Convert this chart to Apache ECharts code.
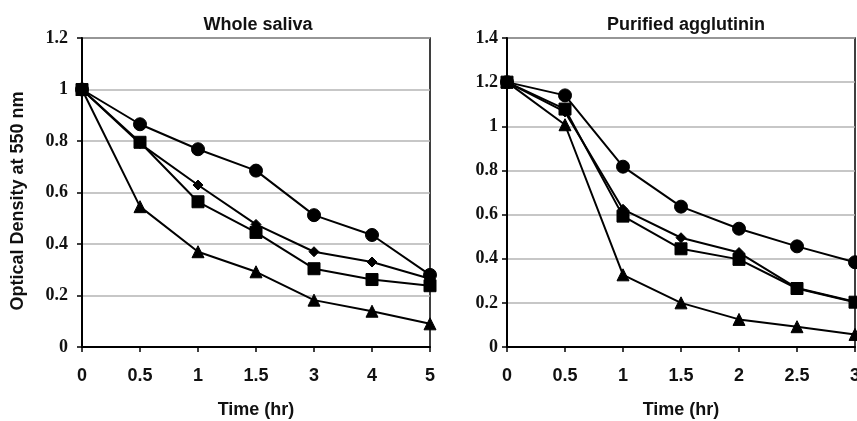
<!DOCTYPE html>
<html>
<head>
<meta charset="utf-8">
<script src="https://cdn.jsdelivr.net/npm/echarts@6/dist/echarts.min.js"></script>
<style>html,body{margin:0;padding:0;background:#fff}#c{width:857px;height:421px}</style>
</head>
<body>
<div id="c"></div>
<script>
// Left panel: Whole saliva
var timesLeft = ['0', '0.5', '1', '1.5', '3', '4', '5'];
var leftCircle   = [1.0, 0.865, 0.768, 0.685, 0.512, 0.435, 0.28];
var leftDiamond  = [1.0, 0.79, 0.629, 0.476, 0.37, 0.33, 0.265];
var leftSquare   = [1.0, 0.795, 0.564, 0.445, 0.304, 0.262, 0.238];
var leftTriangle = [1.0, 0.545, 0.37, 0.292, 0.182, 0.139, 0.09];

// Right panel: Purified agglutinin
var timesRight = ['0', '0.5', '1', '1.5', '2', '2.5', '3'];
var rightCircle   = [1.2, 1.14, 0.817, 0.636, 0.536, 0.456, 0.384];
var rightDiamond  = [1.2, 1.065, 0.624, 0.495, 0.428, 0.267, 0.205];
var rightSquare   = [1.2, 1.078, 0.593, 0.445, 0.397, 0.265, 0.203];
var rightTriangle = [1.2, 1.007, 0.327, 0.2, 0.125, 0.092, 0.057];

var titles = ['Whole saliva', 'Purified agglutinin'];
var yAxisTitle = 'Optical Density at 550 nm';
var xAxisTitle = 'Time (hr)';

var chart = echarts.init(document.getElementById('c'));

function xAx(idx, cats) {
  return {
    type: 'category', gridIndex: idx, data: cats, boundaryGap: false,
    name: xAxisTitle, nameLocation: 'middle', nameGap: 54,
    nameTextStyle: {fontFamily: 'Liberation Sans', fontWeight: 'bold', fontSize: 18, color: '#111'},
    axisLine: {lineStyle: {color: '#000', width: 2}},
    axisTick: {show: true, alignWithLabel: true, length: 5, lineStyle: {color: '#000', width: 1.5}},
    axisLabel: {margin: 20, fontFamily: 'Liberation Sans', fontWeight: 'bold', fontSize: 18, color: '#111'},
    splitLine: {show: false}
  };
}
function yAx(idx, max) {
  return {
    type: 'value', gridIndex: idx, min: 0, max: max, interval: 0.2,
    axisLine: {show: true, lineStyle: {color: '#000', width: 2}},
    axisTick: {show: true, length: 5, lineStyle: {color: '#000', width: 1.5}},
    axisLabel: {margin: idx === 0 ? 14 : 9, fontFamily: 'Liberation Serif', fontWeight: 'bold', fontSize: 18, color: '#111'},
    splitLine: {show: true, lineStyle: {color: '#b4b4b4', width: 1.5}}
  };
}
function ser(idx, data, sym, size) {
  return {
    type: 'line', xAxisIndex: idx, yAxisIndex: idx, data: data,
    symbol: sym, symbolSize: size, showSymbol: true,
    lineStyle: {color: '#000', width: 2},
    itemStyle: {color: '#000', borderColor: '#000'},
    animation: false, silent: true
  };
}

chart.setOption({
  backgroundColor: '#fff',
  animation: false,
  title: [
    {text: titles[0], left: 253, top: 11, textAlign: 'center',
     textStyle: {fontFamily: 'Liberation Sans', fontWeight: 'bold', fontSize: 18, color: '#111'}},
    {text: titles[1], left: 681, top: 11, textAlign: 'center',
     textStyle: {fontFamily: 'Liberation Sans', fontWeight: 'bold', fontSize: 18, color: '#111'}}
  ],
  grid: [
    {left: 82, right: 427, top: 38, bottom: 74, outerBoundsMode: 'none', containLabel: false, show: true, borderColor: '#000', borderWidth: 1.5, backgroundColor: 'transparent'},
    {left: 507, right: 2, top: 38, bottom: 74, outerBoundsMode: 'none', containLabel: false, show: true, borderColor: '#000', borderWidth: 1.5, backgroundColor: 'transparent'}
  ],
  xAxis: [xAx(0, timesLeft), xAx(1, timesRight)],
  yAxis: [yAx(0, 1.2), yAx(1, 1.4)],
  graphic: [{
    type: 'text', x: 18, y: 201, rotation: Math.PI / 2,
    style: {text: yAxisTitle, align: 'center', verticalAlign: 'middle',
      font: 'bold 18px "Liberation Sans"', fill: '#111'}
  }],
  series: [
    ser(0, leftCircle, 'circle', 13),
    ser(0, leftDiamond, 'diamond', 10),
    ser(0, leftTriangle, 'triangle', 12),
    ser(0, leftSquare, 'rect', 12),
    ser(1, rightCircle, 'circle', 13),
    ser(1, rightDiamond, 'diamond', 10),
    ser(1, rightTriangle, 'triangle', 12),
    ser(1, rightSquare, 'rect', 12)
  ]
});
</script>
</body>
</html>
